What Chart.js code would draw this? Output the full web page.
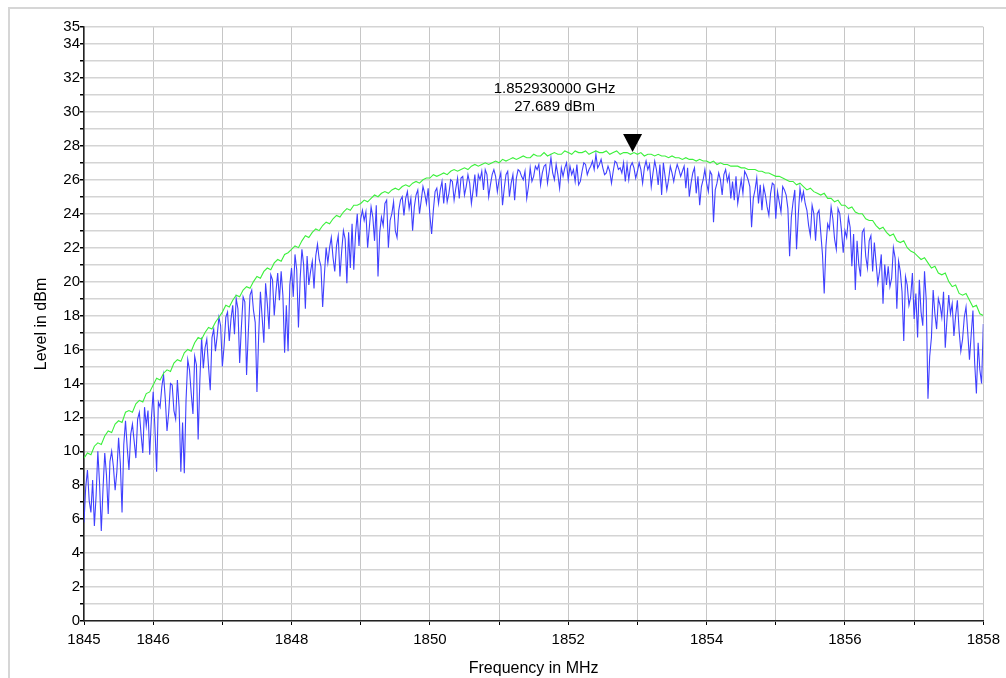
<!DOCTYPE html>
<html>
<head>
<meta charset="utf-8">
<title>Spectrum trace</title>
<script src="https://cdn.jsdelivr.net/npm/chart.js@4.4.1/dist/chart.umd.min.js"></script>
<style>
  html, body { margin: 0; padding: 0; background: #fff; overflow: hidden; }
  #frame {
    position: absolute; left: 8px; top: 7px; width: 1200px; height: 900px;
    border-left: 2px solid #d6d6d6; border-top: 2px solid #d6d6d6;
  }
  #chart { position: absolute; left: 0; top: 0; }
</style>
</head>
<body>
<div id="frame"></div>
<canvas id="chart" width="1006" height="678"></canvas>
<script>
// Sweep range (MHz)
const sweepStart = 1845;
const sweepStop = 1858;

// Blue trace (clear/write), one value per 0.025 MHz, dBm
const clearWriteLevels = [
  // 1845.000 - 1846.000
  5.8, 7.9, 8.9, 7.1, 6.4, 8.3, 5.6, 7.4, 10.0, 8.1, 5.3, 7.8, 9.9, 8.6, 6.3, 9.4, 10.0, 9.1, 7.7, 8.8,
  10.8, 9.3, 6.4, 10.4, 11.8, 10.2, 8.9, 11.0, 11.6, 10.6, 9.6, 11.9, 12.3, 11.0, 9.9, 12.6, 11.5, 12.4, 9.8, 12.0, 13.5,
  // 1846.025 - 1847.550
  11.4, 8.8, 12.9, 12.6, 13.8, 14.5, 13.1, 11.2, 12.3, 14.0, 13.9, 12.4, 11.9, 14.2, 12.6, 8.8, 11.7, 8.7, 13.0, 15.4,
  14.8, 13.4, 12.2, 15.6, 15.1, 10.7, 14.2, 16.7, 14.9, 16.1, 16.6, 15.0, 13.6, 16.7, 17.2, 15.9, 16.8, 17.9, 17.4, 15.0,
  16.2, 17.9, 18.2, 16.5, 17.8, 18.6, 16.9, 19.0, 18.4, 15.2, 17.3, 19.1, 18.8, 14.5, 17.0, 19.2, 19.5, 18.3, 17.6, 13.5,
  16.8, 19.4,
  // 1847.575 - 1850.150
  17.9, 16.4, 19.9, 18.7, 17.2, 20.4, 20.1, 18.0, 19.4, 20.5, 18.9, 20.6, 19.2, 15.8, 18.6, 15.9, 19.8, 20.8, 19.1, 21.6,
  20.7, 17.3, 20.2, 21.9, 21.0, 18.4, 21.5, 19.8, 20.6, 21.2, 19.6, 21.5, 22.2, 21.3, 20.9, 18.5, 20.4, 22.0, 21.1, 22.0,
  22.6, 21.4, 20.6, 22.1, 22.7, 20.3, 21.8, 23.0, 22.5, 19.9, 22.9, 20.8, 23.4, 20.7, 22.8, 24.0, 22.1, 23.7, 24.2, 23.6,
  24.1, 22.0, 23.2, 24.4, 23.8, 22.4, 24.5, 20.3, 22.9, 23.8, 23.3, 24.6, 24.8, 22.0, 23.6, 24.0, 24.7, 23.0, 22.6, 24.2,
  24.8, 25.0, 23.9, 24.9, 25.3, 24.3, 24.9, 23.0, 24.4, 25.1, 25.4, 24.0, 24.8, 25.6, 25.2, 24.6, 25.5, 23.9, 22.8, 24.2,
  25.3, 25.5, 24.6, 25.4,
  // 1850.175 - 1852.800
  25.9, 24.6, 25.8, 24.7, 25.2, 26.0, 25.9, 24.8, 25.5, 26.1, 24.9, 26.1, 26.2, 25.1, 25.6, 26.3, 25.8, 24.6, 25.4, 26.3,
  25.0, 26.3, 26.0, 26.5, 25.4, 26.6, 26.3, 25.0, 25.7, 26.3, 26.6, 26.2, 25.3, 26.0, 26.4, 24.5, 25.5, 26.3, 26.5, 25.0,
  25.8, 26.3, 24.8, 26.1, 26.6, 26.5, 26.2, 26.0, 26.5, 24.9, 25.6, 26.7, 25.9, 26.2, 26.8, 26.6, 26.9, 25.7, 26.4, 26.8,
  26.9, 25.8, 26.5, 27.3, 26.4, 26.0, 26.9, 26.3, 25.5, 26.7, 26.2, 26.7, 27.0, 26.0, 26.8, 26.3, 26.6, 25.9, 26.9, 25.7,
  25.9, 26.5, 27.0, 26.9, 26.3, 26.6, 26.8, 27.1, 26.6, 27.5, 26.7, 26.9, 27.2, 26.7, 26.3, 26.4, 26.8, 26.5, 25.8, 26.5,
  27.1, 27.0, 26.6, 26.7, 26.4, 27.0,
  // 1852.825 - 1855.400
  25.9, 26.9, 26.0, 26.8, 27.0, 26.7, 26.1, 26.5, 27.0, 26.6, 25.8, 26.7, 27.1, 26.6, 26.9, 25.6, 26.4, 27.1, 26.6, 25.7,
  26.9, 25.1, 27.0, 26.2, 25.4, 26.0, 26.8, 26.4, 25.9, 26.5, 26.9, 26.6, 26.2, 26.5, 26.8, 25.5, 26.7, 25.0, 25.8, 26.4,
  26.7, 25.2, 26.2, 24.5, 25.6, 26.0, 26.6, 25.8, 25.3, 26.5, 26.3, 23.5, 25.4, 25.8, 26.4, 26.0, 25.1, 26.3, 26.6, 25.9,
  26.3, 24.9, 25.9, 24.8, 26.2, 24.6, 25.3, 26.0, 25.2, 26.5, 26.3, 26.0, 25.6, 23.2, 24.9, 25.4, 26.1, 24.6, 25.7, 24.2,
  25.6, 25.1, 24.4, 23.9, 25.2, 25.8, 25.7, 23.7, 25.3, 24.7, 24.1, 25.6, 25.4, 25.1, 24.3, 21.5, 23.8, 24.7, 25.4, 21.9,
  23.9, 25.5, 24.8, 25.3,
  // 1855.425 - 1858.000
  24.6, 24.2, 23.3, 22.7, 24.5, 24.0, 22.4, 24.0, 24.2, 22.9, 21.6, 19.3, 22.1, 23.4, 23.1, 24.4, 23.7, 22.5, 21.9, 24.3,
  24.0, 23.0, 21.7, 23.0, 22.6, 23.8, 23.2, 20.9, 22.8, 19.5, 22.4, 21.0, 20.3, 22.9, 23.1, 21.5, 20.8, 22.4, 22.7, 20.6,
  22.3, 21.1, 19.9, 20.6, 21.6, 18.7, 21.0, 19.8, 20.9, 19.7, 20.2, 22.0, 21.4, 18.4, 21.2, 20.6, 19.4, 16.5, 20.3, 19.8,
  18.6, 19.1, 20.5, 17.8, 19.3, 16.7, 20.1, 18.2, 17.4, 20.6, 18.9, 13.1, 15.6, 16.7, 19.5, 18.1, 17.2, 19.0, 18.6, 17.9,
  19.4, 16.1, 17.8, 19.2, 18.1, 18.7, 16.8, 18.0, 18.9, 17.1, 15.9, 16.6, 17.9, 18.5, 17.0, 15.4, 16.9, 18.3, 15.2, 13.4,
  16.4, 14.8, 14.0, 17.5
];

// Green trace (max hold), one value per 0.05 MHz, dBm
const maxHoldLevels = [
  9.6, 9.9, 9.8, 10.3, 10.5, 10.4, 10.9, 11.2, 11.1, 11.6, 11.8, 11.7, 12.3, 12.4, 12.3, 12.8, 13.0, 12.9, 13.4, 13.5,
  13.9, 14.3, 14.2, 14.6, 14.8, 14.7, 15.2, 15.4, 15.3, 15.8, 16.0, 15.9, 16.4, 16.7, 16.6, 17.0, 17.3, 17.2, 17.6, 17.9,
  18.2, 18.6, 18.5, 18.9, 19.2, 19.1, 19.5, 19.7, 19.6, 20.0, 20.3, 20.2, 20.6, 20.8, 20.7, 21.1, 21.3, 21.2, 21.6, 21.7,
  21.9, 22.1, 22.0, 22.4, 22.7, 22.6, 22.9, 23.1, 23.0, 23.3, 23.5, 23.4, 23.7, 23.9, 23.8, 24.1, 24.3, 24.2, 24.5, 24.5,
  24.6, 24.8, 24.7, 24.9, 25.1, 25.0, 25.2, 25.3, 25.2, 25.4, 25.5, 25.4, 25.6, 25.7, 25.6, 25.8, 25.9, 25.8, 26.0, 26.1,
  26.1, 26.3, 26.2, 26.3, 26.4, 26.3, 26.5, 26.6, 26.5, 26.6, 26.7, 26.6, 26.8, 26.9, 26.8, 26.9, 27.0, 26.9, 27.0, 27.1,
  27.0, 27.2, 27.1, 27.2, 27.3, 27.2, 27.3, 27.4, 27.3, 27.3, 27.5, 27.4, 27.4, 27.6, 27.4, 27.5, 27.6, 27.5, 27.5, 27.7,
  27.6, 27.5, 27.7, 27.6, 27.6, 27.7, 27.5, 27.6, 27.7, 27.6, 27.6, 27.7, 27.5, 27.6, 27.7, 27.5, 27.6, 27.6, 27.5, 27.6,
  27.5, 27.6, 27.4, 27.5, 27.5, 27.4, 27.5, 27.4, 27.4, 27.3, 27.4, 27.3, 27.3, 27.2, 27.3, 27.2, 27.2, 27.1, 27.2, 27.1,
  27.1, 27.0, 27.1, 26.9, 27.0, 26.9, 26.9, 26.8, 26.8, 26.8, 26.7, 26.7, 26.6, 26.6, 26.6, 26.5, 26.5, 26.4, 26.4, 26.3,
  26.2, 26.2, 26.1, 26.0, 25.9, 25.9, 25.7, 25.8, 25.6, 25.4, 25.5, 25.3, 25.2, 25.1, 25.2, 24.9, 24.9, 24.7, 24.8, 24.5,
  24.5, 24.3, 24.4, 24.1, 24.0, 24.0, 23.7, 23.6, 23.6, 23.3, 23.1, 23.2, 22.9, 22.7, 22.8, 22.4, 22.3, 22.4, 22.0, 21.8,
  21.7, 21.5, 21.3, 21.4, 21.1, 20.8, 20.9, 20.5, 20.4, 20.5, 20.0, 19.7, 19.8, 19.3, 19.2, 19.3, 18.9, 18.5, 18.6, 18.1,
  18.0
];

// Labelled ticks
const xTickLabels = [1845, 1846, 1848, 1850, 1852, 1854, 1856, 1858];
const yTickLabels = [0, 2, 4, 6, 8, 10, 12, 14, 16, 18, 20, 22, 24, 26, 28, 30, 32, 34, 35];

// Marker
const markerFreq = 1852.93;   // MHz
const markerLevel = 27.689;   // dBm

const FONT = '"Liberation Sans", Arial, sans-serif';

// sweep points spread evenly over the span
function toPoints(levels) {
  const step = (sweepStop - sweepStart) / (levels.length - 1);
  return levels.map((v, i) => ({ x: sweepStart + i * step, y: v }));
}

const markerPlugin = {
  id: 'marker',
  afterDatasetsDraw(chart) {
    const { ctx, scales: { x, y } } = chart;
    const px = x.getPixelForValue(markerFreq);
    const py = y.getPixelForValue(markerLevel);
    ctx.save();
    ctx.fillStyle = '#000';
    ctx.beginPath();
    ctx.moveTo(px, py + 1);
    ctx.lineTo(px - 9.5, py - 17);
    ctx.lineTo(px + 9.5, py - 17);
    ctx.closePath();
    ctx.fill();
    ctx.font = '15px ' + FONT;
    ctx.textAlign = 'center';
    ctx.textBaseline = 'alphabetic';
    const tx = px - 78;
    ctx.fillText((markerFreq / 1000).toFixed(9) + ' GHz', tx, py - 58);
    ctx.fillText(markerLevel.toFixed(3) + ' dBm', tx, py - 40);
    ctx.restore();
  }
};

new Chart(document.getElementById('chart').getContext('2d'), {
  type: 'line',
  data: {
    datasets: [
      {
        label: 'Clear/Write',
        data: toPoints(clearWriteLevels),
        borderColor: 'rgb(64,64,255)',
        borderWidth: 1.1,
        pointRadius: 0,
        tension: 0,
        fill: false,
        order: 2
      },
      {
        label: 'Max Hold',
        data: toPoints(maxHoldLevels),
        borderColor: 'rgb(60,240,60)',
        borderWidth: 1.1,
        pointRadius: 0,
        tension: 0,
        fill: false,
        order: 1
      }
    ]
  },
  options: {
    responsive: false,
    animation: false,
    devicePixelRatio: 1,
    layout: { padding: { left: 0, right: 21, top: 27, bottom: 0 } },
    plugins: { legend: { display: false }, tooltip: { enabled: false } },
    scales: {
      x: {
        type: 'linear',
        min: sweepStart,
        max: sweepStop,
        afterFit: (s) => { s.height = 57; },
        ticks: {
          stepSize: 1,
          autoSkip: false,
          maxRotation: 0,
          padding: 6,
          color: '#000',
          font: { family: FONT, size: 15 },
          callback: (v) => (xTickLabels.includes(v) ? String(v) : '')
        },
        grid: { color: '#c6c6c6', lineWidth: 1, tickColor: '#000', tickLength: 4 },
        border: { color: '#222', width: 1.5 },
        title: {
          display: true,
          text: 'Frequency in MHz',
          color: '#000',
          font: { family: FONT, size: 16 },
          padding: { top: 0, bottom: 0 }
        }
      },
      y: {
        min: 0,
        max: 35,
        afterFit: (s) => { s.width = 84; },
        ticks: {
          stepSize: 1,
          autoSkip: false,
          padding: 0,
          color: '#000',
          font: { family: FONT, size: 15 },
          callback: (v) => (yTickLabels.includes(v) ? String(v) : '')
        },
        grid: { color: '#d4d4d4', lineWidth: 1.5, tickColor: '#000', tickLength: 4 },
        border: { color: '#222', width: 1.5 },
        title: {
          display: true,
          text: 'Level in dBm',
          color: '#000',
          font: { family: FONT, size: 16 },
          padding: { top: 32, bottom: 0 }
        }
      }
    }
  },
  plugins: [markerPlugin]
});
</script>
</body>
</html>
